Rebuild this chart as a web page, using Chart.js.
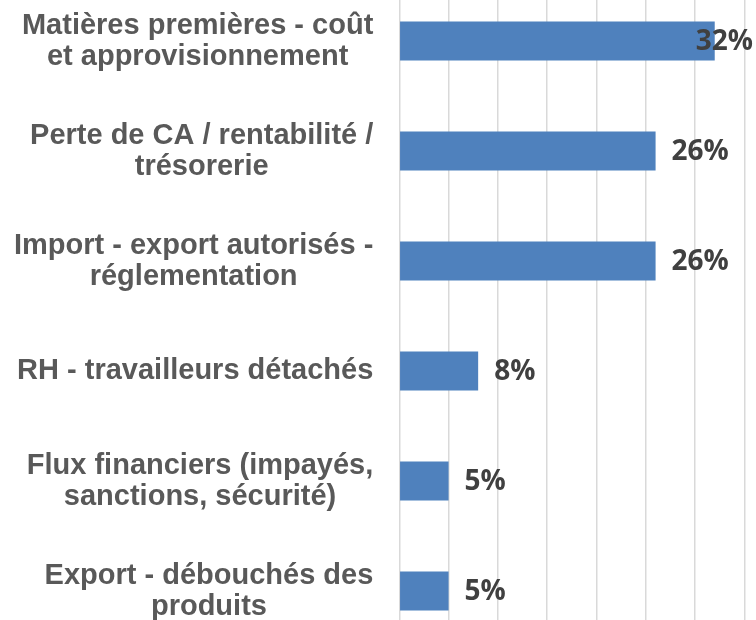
<!DOCTYPE html>
<html>
<head>
  <title>Préoccupations des entreprises</title>
  <script src="https://cdn.jsdelivr.net/npm/chart.js"></script>
  <style>
    html, body { margin: 0; padding: 0; background: #fff; overflow: hidden; }
    .chart-container {
      position: absolute;
      left: 0;
      top: -14.5px;
      width: 756px;
      height: 660px;
    }
  </style>
</head>
<body>
  <div class="chart-container">
    <canvas id="myChart"></canvas>
  </div>
  <script>
    // categories (each entry = lines of the label, as on the picture)
    const categories = [
      ['Matières premières - coût', 'et approvisionnement'],
      ['Perte de CA / rentabilité /', 'trésorerie'],
      ['Import - export autorisés -', 'réglementation'],
      ['RH - travailleurs détachés'],
      ['Flux financiers (impayés,', 'sanctions, sécurité)'],
      ['Export - débouchés des', 'produits']
    ];
    const values = [32, 26, 26, 8, 5, 5];
    const xMin = 0, xMax = 35, xStep = 5;

    const catFont = 'bold 29px "Liberation Sans", Arial, sans-serif';
    const valFont = 'bold 28px "Open Sans", sans-serif';

    // draws the category labels (lines centred inside a right-aligned block) and the value labels
    const labelPlugin = {
      id: 'labels',
      afterDraw(chart) {
        const ctx = chart.ctx;
        const x = chart.scales.x, y = chart.scales.y;
        ctx.save();
        ctx.font = catFont;
        ctx.fillStyle = '#595959';
        ctx.textAlign = 'center';
        ctx.textBaseline = 'middle';
        const rightEdge = x.left - 26;
        const lineH = 31;
        categories.forEach((lines, i) => {
          const cy = y.getPixelForValue(i);
          const widest = Math.max(...lines.map(l => ctx.measureText(l).width));
          const cx = rightEdge - widest / 2;
          lines.forEach((l, j) => {
            ctx.fillText(l, cx, cy + (j - (lines.length - 1) / 2) * lineH);
          });
        });
        ctx.font = valFont;
        ctx.fillStyle = '#404040';
        ctx.textAlign = 'left';
        values.forEach((v, i) => {
          const txt = v + '%';
          const w = ctx.measureText(txt).width;
          let px = x.getPixelForValue(v) + 16;
          if (px + w > chart.width - 3) px = chart.width - 3 - w;
          ctx.fillText(txt, px, y.getPixelForValue(i) + 1);
        });
        ctx.restore();
      }
    };

    new Chart(document.getElementById('myChart').getContext('2d'), {
      type: 'bar',
      data: {
        labels: categories,
        datasets: [{
          data: values,
          backgroundColor: '#4f81bd',
          borderWidth: 0,
          categoryPercentage: 1,
          barPercentage: 0.355
        }]
      },
      options: {
        indexAxis: 'y',
        animation: false,
        responsive: true,
        maintainAspectRatio: false,
        layout: { padding: { left: 0, right: 11.7, top: 0, bottom: 0 } },
        plugins: { legend: { display: false }, tooltip: { enabled: false } },
        scales: {
          x: {
            min: xMin, max: xMax,
            ticks: { display: false, stepSize: xStep },
            grid: { color: '#d9d9d9', lineWidth: 1.5, drawTicks: false },
            border: { display: false }
          },
          y: {
            ticks: { display: false },
            grid: { display: false, drawTicks: false },
            border: { display: false },
            afterFit(scale) { scale.width = 399.3; }
          }
        }
      },
      plugins: [labelPlugin]
    });
  </script>
</body>
</html>
